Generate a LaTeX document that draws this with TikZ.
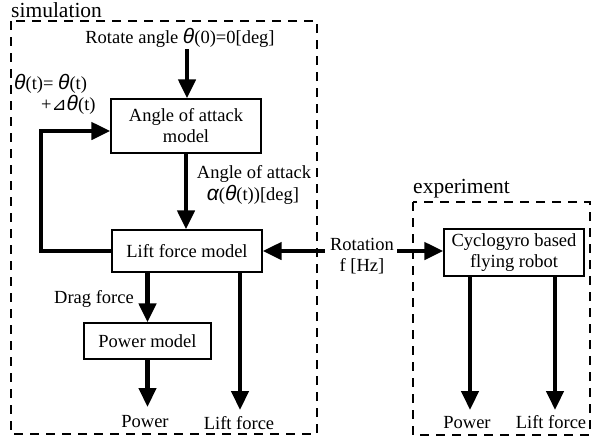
\documentclass[tikz,border=0pt]{standalone}
\usepackage{fontspec}
\setmainfont{Liberation Serif}
\newfontfamily\grkfont{Liberation Sans}
\newfontfamily\dejavufont{DejaVu Sans}
\usetikzlibrary{arrows.meta}
\newcommand{\thet}{{\grkfont\itshape\fontsize{21}{21}\selectfont θ}}
\newcommand{\alf}{{\grkfont\itshape\fontsize{21}{21}\selectfont α}}
\newcommand{\dtri}{{\dejavufont\fontsize{18}{18}\selectfont ⊿}}
\begin{document}
\begin{tikzpicture}[x=1pt,y=-1pt,
  font=\rmfamily\fontsize{18.5}{21}\selectfont,
  box/.style={draw, line width=1.4pt, inner sep=0pt, align=center},
  flow/.style={line width=4.5pt, -{Triangle[length=19pt,width=17pt]}},
  frame/.style={draw, line width=1.4pt, dash pattern=on 9pt off 7pt},
  lbl/.style={inner sep=0pt},
  title/.style={inner sep=0pt, font=\rmfamily\fontsize{21.5}{24}\selectfont}]
\useasboundingbox (0,0) rectangle (594,445);

% frames
\draw[frame] (11,21) rectangle (317,434);
\draw[frame] (413,202) rectangle (590,435);
\node[title, anchor=base west] (simt) at (11,17) {simulation};
\node[title, anchor=base west] (expt) at (413,193) {experiment};

% boxes
\node[box, minimum width=150pt, minimum height=54pt] (aoa) at (186,126) {Angle of attack\\model};
\node[box, minimum width=150pt, minimum height=42pt] (lift) at (187,251) {Lift force model};
\node[box, minimum width=127pt, minimum height=36pt] (power) at (147.5,341) {Power model};
\node[box, minimum width=140pt, minimum height=47pt] (cyclo) at (514,252.5) {Cyclogyro based\\flying robot};

% top input
\node[lbl, anchor=base] (rotang) at (180,43) {Rotate angle \thet(0)=0[deg]};
\coordinate (topin) at (187,49);
\draw[flow] (topin) -- (topin |- aoa.north);

% angle of attack
\draw[flow] (aoa.south) -- (aoa.south |- lift.north);
\node[lbl, anchor=base] (aoal1) at (254,178) {Angle of attack};
\node[lbl, anchor=base] (aoal2) at (253,200) {\alf(\thet(t))[deg]};

% feedback loop
\coordinate (fb) at (41,131);
\draw[flow] (lift.west) -| (fb) -- (aoa.west |- fb);
\node[lbl, anchor=base west] (fbl1) at (14,89) {\thet(t)= \thet(t)};
\node[lbl, anchor=base west] (fbl2) at (41,110) {+\dtri\thet(t)};

% rotation
\node[lbl, align=center] (rot) at (362,256) {Rotation\\f [Hz]};
\draw[flow] ([xshift=-5pt]rot.west |- lift.east) -- (lift.east);
\draw[flow] ([xshift=3pt]rot.east |- lift.east) -- (cyclo.west |- lift.east);

% drag force
\draw[flow] (power.north |- lift.south) -- (power.north);
\node[lbl, anchor=base east] (dragl) at (134,303) {Drag force};

% simulation outputs
\coordinate (lfend) at (240,410);
\draw[flow] (lfend |- lift.south) -- (lfend);
\node[lbl, anchor=base] (lfl) at (239,429) {Lift force};
\coordinate (pwend) at (147.5,407);
\draw[flow] (power.south) -- (pwend);
\node[lbl, anchor=base] (pwl) at (145,427) {Power};

% experiment outputs
\coordinate (epend) at (470,410);
\coordinate (elend) at (555,410);
\draw[flow] (epend |- cyclo.south) -- (epend);
\draw[flow] (elend |- cyclo.south) -- (elend);
\node[lbl, anchor=base] (epl) at (467,428) {Power};
\node[lbl, anchor=base] (ell) at (551,428) {Lift force};
\end{tikzpicture}
\end{document}
